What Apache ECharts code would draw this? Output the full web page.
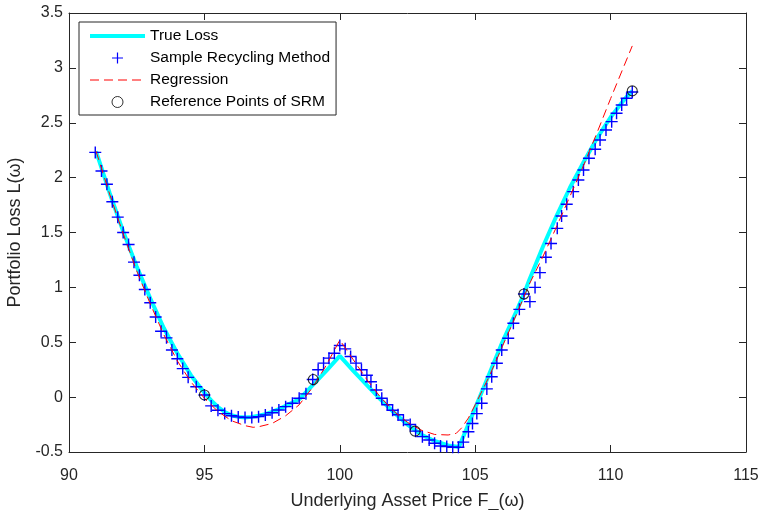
<!DOCTYPE html>
<html><head><meta charset="utf-8">
<script src="https://cdn.jsdelivr.net/npm/echarts@6/dist/echarts.min.js"></script>
<style>html,body{margin:0;padding:0;background:#fff}#c{width:762px;height:510px}</style>
</head><body><div id="c"></div>
<script>
// True loss curve
const trueX = [91, 91.5, 92, 92.5, 93, 93.5, 94, 94.5, 95, 95.25, 95.5, 95.75, 96, 96.25, 96.5, 96.75, 97, 97.25, 97.5, 97.75, 98, 98.5, 99, 99.5, 100, 100.5, 101, 101.5, 102, 102.5, 103, 103.5, 104, 104.4, 105, 105.5, 106, 106.5, 106.8, 107, 107.5, 108, 108.5, 109, 109.5, 110, 110.5, 110.8];
const trueY = [2.24, 1.86, 1.51, 1.19, 0.90, 0.63, 0.40, 0.20, 0.04, -0.03, -0.09, -0.135, -0.165, -0.18, -0.185, -0.18, -0.17, -0.155, -0.135, -0.11, -0.08, -0.02, 0.11, 0.24, 0.375, 0.24, 0.11, -0.02, -0.14, -0.25, -0.34, -0.40, -0.44, -0.455, -0.10, 0.20, 0.50, 0.77, 0.94, 1.07, 1.37, 1.65, 1.91, 2.14, 2.36, 2.55, 2.71, 2.79];

// Sample Recycling Method estimates
const srmX = [90.97, 91.2, 91.4, 91.6, 91.8, 92.0, 92.2, 92.4, 92.6, 92.8, 93.0, 93.2, 93.4, 93.6, 93.8, 94.0, 94.2, 94.4, 94.7, 95.0, 95.25, 95.5, 95.75, 96.0, 96.25, 96.5, 96.75, 97.0, 97.25, 97.5, 97.75, 98.0, 98.25, 98.5, 98.75, 99.0, 99.2, 99.4, 99.6, 99.8, 100.0, 100.2, 100.4, 100.6, 100.8, 101.0, 101.15, 101.35, 101.55, 101.75, 101.95, 102.15, 102.35, 102.6, 102.8, 103.05, 103.3, 103.5, 103.72, 103.95, 104.17, 104.38, 104.56, 104.75, 104.9, 105.06, 105.24, 105.43, 105.61, 105.8, 105.98, 106.22, 106.41, 106.63, 106.8, 107.02, 107.21, 107.39, 107.61, 107.8, 108.03, 108.19, 108.38, 108.62, 108.81, 109.0, 109.2, 109.43, 109.61, 109.83, 110.04, 110.22, 110.41, 110.59, 110.8];
const srmY = [2.23, 2.06, 1.94, 1.78, 1.64, 1.50, 1.39, 1.23, 1.11, 0.98, 0.86, 0.73, 0.60, 0.54, 0.43, 0.35, 0.26, 0.18, 0.095, 0.02, -0.08, -0.12, -0.15, -0.17, -0.18, -0.185, -0.185, -0.178, -0.163, -0.142, -0.117, -0.087, -0.056, -0.01, 0.03, 0.16, 0.25, 0.31, 0.355, 0.40, 0.47, 0.44, 0.37, 0.31, 0.25, 0.20, 0.14, 0.065, -0.01, -0.07, -0.12, -0.16, -0.21, -0.25, -0.31, -0.36, -0.39, -0.42, -0.445, -0.45, -0.457, -0.457, -0.41, -0.315, -0.24, -0.15, -0.056, 0.075, 0.186, 0.308, 0.43, 0.536, 0.673, 0.80, 0.94, 0.87, 1.00, 1.134, 1.274, 1.40, 1.538, 1.65, 1.757, 1.872, 1.978, 2.07, 2.176, 2.258, 2.343, 2.434, 2.51, 2.586, 2.662, 2.723, 2.78];

// Regression curve
const regX = [91, 91.5, 92, 92.5, 93, 93.5, 94, 94.5, 95, 95.5, 96, 96.5, 96.8, 97, 97.5, 98, 98.5, 99, 99.5, 100, 100.5, 101, 101.5, 102, 102.5, 103, 103.5, 104, 104.3, 104.5, 104.75, 105, 105.5, 106, 106.5, 107, 107.5, 108, 108.5, 109, 109.5, 110, 110.5, 110.8];
const regY = [2.24, 1.85, 1.49, 1.15, 0.85, 0.57, 0.33, 0.14, -0.01, -0.13, -0.215, -0.26, -0.275, -0.27, -0.24, -0.17, -0.07, 0.09, 0.29, 0.52, 0.34, 0.16, 0.0, -0.13, -0.23, -0.30, -0.34, -0.345, -0.33, -0.28, -0.19, -0.07, 0.18, 0.46, 0.74, 1.03, 1.28, 1.55, 1.83, 2.11, 2.41, 2.72, 3.02, 3.20];

// Reference points of SRM
const refX = [95.0, 99.02, 102.78, 106.8, 110.8];
const refY = [0.02, 0.16, -0.31, 0.94, 2.79];

const zip = (xs, ys) => xs.map((x, i) => [x, ys[i]]);
const axisColor = '#262626';
const font = '"Liberation Sans", Arial, Helvetica, sans-serif';
const chart = echarts.init(document.getElementById('c'), null, {renderer: 'canvas'});

function xAx(top) {
  return {
    type: 'value', min: 90, max: 115, interval: 5, position: top ? 'top' : 'bottom',
    axisLine: {onZero: false, lineStyle: {color: axisColor, width: 1}},
    axisTick: {inside: true, length: 7, lineStyle: {color: axisColor}},
    axisLabel: {show: !top, fontSize: 16, color: axisColor, fontFamily: font, margin: 16},
    splitLine: {show: false},
    name: top ? '' : 'Underlying Asset Price F_(ω)',
    nameLocation: 'middle', nameGap: 40,
    nameTextStyle: {fontSize: 18, color: axisColor, fontFamily: font}
  };
}
function yAx(right) {
  return {
    type: 'value', min: -0.5, max: 3.5, interval: 0.5, position: right ? 'right' : 'left',
    axisLine: {onZero: false, lineStyle: {color: axisColor, width: 1}},
    axisTick: {inside: true, length: 7, lineStyle: {color: axisColor}},
    axisLabel: {show: !right, fontSize: 16, color: axisColor, fontFamily: font, margin: 6},
    splitLine: {show: false},
    name: right ? '' : 'Portfolio Loss L(ω)',
    nameLocation: 'middle', nameGap: 40,
    nameTextStyle: {fontSize: 18, color: axisColor, fontFamily: font}
  };
}

const hideSym = {color: 'rgba(0,0,0,0)', borderColor: 'rgba(0,0,0,0)', borderWidth: 0};

chart.setOption({
  animation: false,
  backgroundColor: '#fff',
  grid: {left: 69, right: 16, top: 13, bottom: 58, containLabel: false, outerBoundsMode: 'none'},
  xAxis: [xAx(false), xAx(true)],
  yAxis: [yAx(false), yAx(true)],
  legend: {
    orient: 'vertical', left: 79, top: 22,
    padding: [5, 6, 4, 9], itemGap: 4, itemWidth: 55, itemHeight: 11,
    borderColor: axisColor, borderWidth: 1, backgroundColor: '#fff', borderRadius: 0,
    textStyle: {fontSize: 15.5, lineHeight: 18, color: '#000', fontFamily: font},
    data: [
      {name: 'True Loss', itemStyle: hideSym, lineStyle: {width: 4}},
      {name: 'Sample Recycling Method', itemStyle: {borderWidth: 1.2}},
      {name: 'Regression', itemStyle: hideSym, lineStyle: {width: 1}},
      {name: 'Reference Points of SRM', itemStyle: {borderWidth: 1}}
    ]
  },
  series: [
    {name: 'True Loss', type: 'line', data: zip(trueX, trueY), symbol: 'none',
     lineStyle: {color: '#00ffff', width: 4}, itemStyle: {color: '#00ffff'}, z: 2},
    {name: 'Sample Recycling Method', type: 'scatter', data: zip(srmX, srmY),
     symbol: 'path://M0,6L12,6M6,0L6,12', symbolSize: 12,
     itemStyle: {color: 'none', borderColor: '#0000ff', borderWidth: 1.4, opacity: 1}, z: 3},
    {name: 'Regression', type: 'line', data: zip(regX, regY), symbol: 'none',
     lineStyle: {color: '#ff0000', width: 1, type: [9, 5]}, itemStyle: {color: '#ff0000'}, z: 4},
    {name: 'Reference Points of SRM', type: 'scatter', data: zip(refX, refY),
     symbol: 'circle', symbolSize: 10,
     itemStyle: {color: 'none', borderColor: '#000', borderWidth: 1.1}, z: 5}
  ]
});
</script></body></html>
